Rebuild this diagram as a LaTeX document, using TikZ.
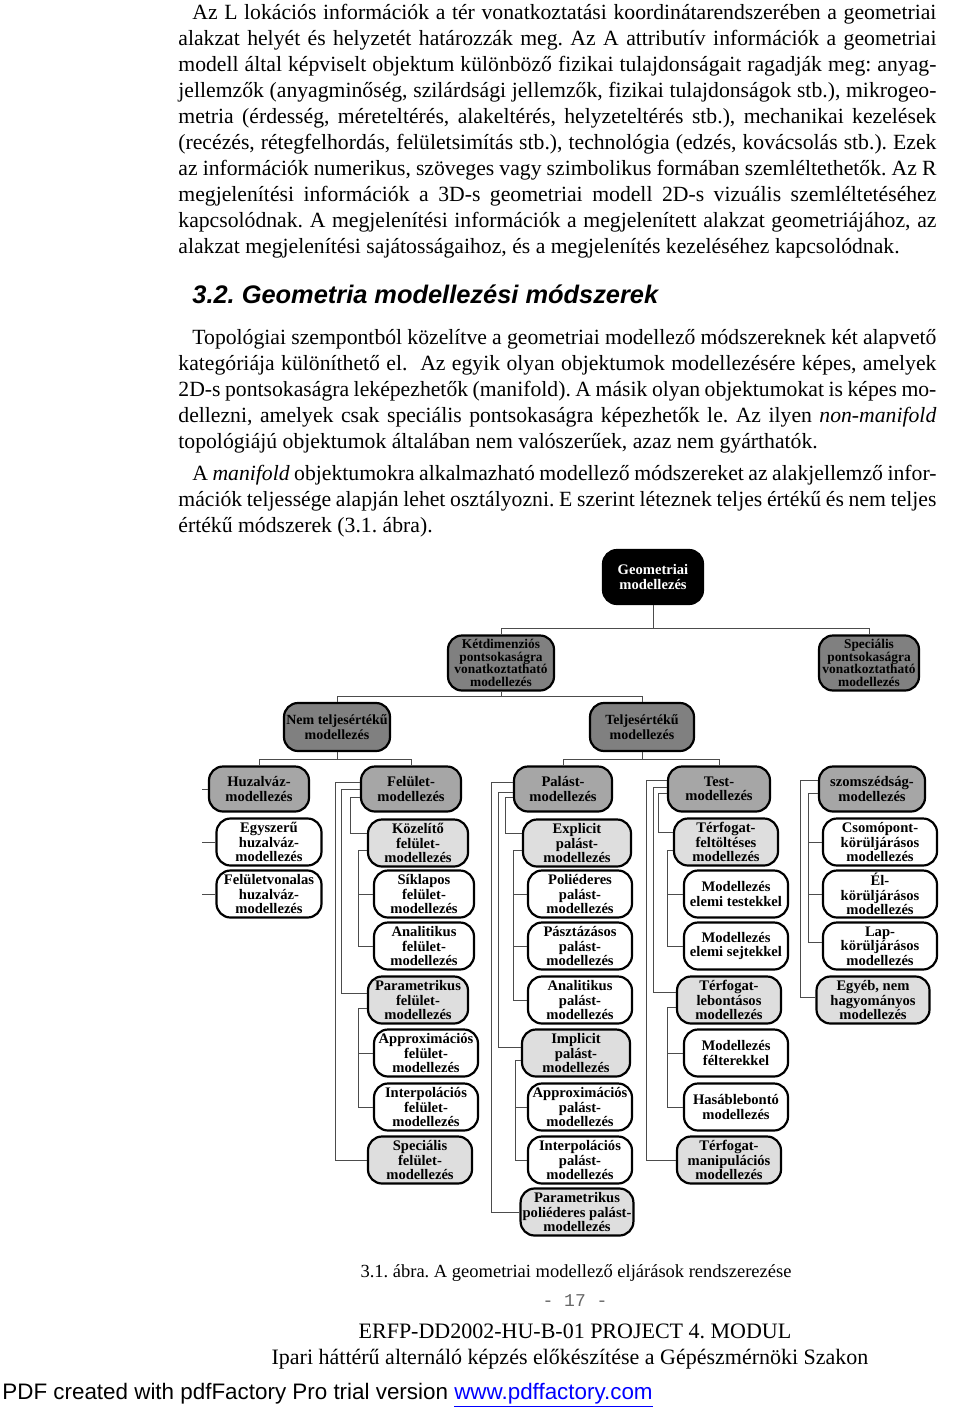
\documentclass[tikz,border=0pt]{standalone}
\usepackage{fontspec}
\setmainfont{Liberation Serif}
\newfontfamily\headfont{Liberation Sans}
\newfontfamily\pagefont{Liberation Mono}
\definecolor{linkblue}{RGB}{0,0,255}
\frenchspacing

\tikzset{
  box/.style={draw=black,line width=1.1pt,rounded corners=7pt,align=center,
              inner sep=1pt,font=\bfseries\fontsize{7.3}{7.2}\selectfont},
  toplvl/.style={box,fill=black,text=white,minimum width=50pt,minimum height=27pt},
  maingrp/.style={box,fill=black!50,minimum width=53pt,minimum height=27.5pt,
                  font=\bfseries\fontsize{6.7}{6.2}\selectfont},
  kindgrp/.style={box,fill=black!50,minimum width=53pt,minimum height=24pt,
                  font=\bfseries\fontsize{7}{7.2}\selectfont},
  method/.style={box,fill=black!35,minimum width=50pt,minimum height=22.5pt},
  subgrp/.style={box,fill=black!13,minimum width=52pt,minimum height=23.5pt},
  leaf/.style={box,fill=white,minimum width=52pt,minimum height=23.5pt},
  conn/.style={draw=black!70,line width=0.5pt},
  bodytext/.style={anchor=north west,inner sep=0pt,text width=379pt,align=justify,
                   font=\fontsize{10.85}{13}\selectfont}
}

% parent -> child: left trunk at distance #3, shifts of the two stubs
\newcommand{\branch}[5]{\draw[conn] ([yshift=#4]#1.west) -- ++(-#3,0) |- ([yshift=#5]#2.west);}
\newcommand{\stub}[2]{\draw[conn] (#1.west) -- ++(-#2,0);}

\begin{document}
\begin{tikzpicture}[x=0.5pt,y=-0.5pt]
  \fill[white] (0,0) rectangle (960,1407);
  \useasboundingbox (0,0) rectangle (960,1407);

  % text above the figure
  \node[bodytext] (parone) at (178,0.8) {\strut\hspace*{7pt}Az L lokációs információk a tér vonatkoztatási koordinátarendszerében a geometriai\linebreak
    alakzat helyét és helyzetét határozzák meg. Az A attributív információk a geometriai\linebreak
    modell által képviselt objektum különböző fizikai tulajdonságait ragadják meg: anyag-\linebreak
    jellemzők (anyagminőség, szilárdsági jellemzők, fizikai tulajdonságok stb.), mikrogeo-\linebreak
    metria (érdesség, méreteltérés, alakeltérés, helyzeteltérés stb.), mechanikai kezelések\linebreak
    (recézés, rétegfelhordás, felületsimítás stb.), technológia (edzés, kovácsolás stb.). Ezek\linebreak
    az információk numerikus, szöveges vagy szimbolikus formában szemléltethetők. Az R\linebreak
    megjelenítési információk a 3D-s geometriai modell 2D-s vizuális szemléltetéséhez\linebreak
    kapcsolódnak. A megjelenítési információk a megjelenített alakzat geometriájához, az\linebreak
    alakzat megjelenítési sajátosságaihoz, és a megjelenítés kezeléséhez kapcsolódnak.};

  \node[anchor=base west,inner sep=0pt,font=\headfont\bfseries\itshape\fontsize{12.7}{15}\selectfont]
    (heading) at (192,303) {3.2. Geometria modellezési módszerek};

  \node[bodytext] (partwo) at (178,325.8) {\strut\hspace*{7pt}Topológiai szempontból közelítve a geometriai modellező módszereknek két alapvető\linebreak
    kategóriája különíthető el.\ \ Az egyik olyan objektumok modellezésére képes, amelyek\linebreak
    2D-s pontsokaságra leképezhetők (manifold). A másik olyan objektumokat is képes mo-\linebreak
    dellezni, amelyek csak speciális pontsokaságra képezhetők le. Az ilyen \textit{non-manifold}\linebreak
    topológiájú objektumok általában nem valószerűek, azaz nem gyárthatók.};

  \node[bodytext] (parthree) at (178,461.8) {\strut\hspace*{7pt}A \textit{manifold} objektumokra alkalmazható modellező módszereket az alakjellemző infor-\linebreak
    mációk teljessége alapján lehet osztályozni. E szerint léteznek teljes értékű és nem teljes\linebreak
    értékű módszerek (3.1. ábra).};

  % the tree
  \node[toplvl] (geo) at (653,577) {Geometriai\\modellezés};
  \node[maingrp] (ketdim) at (501,663) {Kétdimenziós\\pontsokaságra\\vonatkoztatható\\modellezés};
  \node[maingrp,minimum width=50pt] (specpont) at (869,663) {Speciális\\pontsokaságra\\vonatkoztatható\\modellezés};
  \node[kindgrp] (nemtelj) at (337,727) {Nem teljesértékű\\modellezés};
  \node[kindgrp,minimum width=52pt] (telj) at (642,727) {Teljesértékű\\modellezés};

  \node[method] (huzal) at (259,789) {Huzalváz-\\modellezés};
  \node[method] (felulet) at (411,789) {Felület-\\modellezés};
  \node[method,minimum width=49pt] (palast) at (563,789) {Palást-\\modellezés};
  \node[method,minimum width=51pt] (test) at (719,789) {Test-\\modellezés};
  \node[method,minimum width=53pt] (szom) at (872,789) {szomszédság-\\modellezés};

  \node[leaf,minimum width=52.5pt] (egyszeru) at (269,842) {Egyszerű\\huzalváz-\\modellezés};
  \node[leaf,minimum width=52.5pt] (felvon) at (269,894) {Felületvonalas\\huzalváz-\\modellezés};

  \node[subgrp,minimum width=50pt] (kozelito) at (418,843) {Közelítő\\felület-\\modellezés};
  \node[leaf,minimum width=50pt] (siklapos) at (424,894) {Síklapos\\felület-\\modellezés};
  \node[leaf,minimum width=50pt] (analfel) at (424,946) {Analitikus\\felület-\\modellezés};
  \node[subgrp,minimum width=50pt] (paramfel) at (418,1000) {Parametrikus\\felület-\\modellezés};
  \node[leaf] (approxfel) at (426,1053) {Approximációs\\felület-\\modellezés};
  \node[leaf] (interpfel) at (426,1107) {Interpolációs\\felület-\\modellezés};
  \node[subgrp] (specfel) at (420,1160) {Speciális\\felület-\\modellezés};

  \node[subgrp,minimum width=54pt] (explicit) at (577,843) {Explicit\\palást-\\modellezés};
  \node[leaf] (polied) at (580,894) {Poliéderes\\palást-\\modellezés};
  \node[leaf] (paszt) at (580,946) {Pásztázásos\\palást-\\modellezés};
  \node[leaf] (analpal) at (580,1000) {Analitikus\\palást-\\modellezés};
  \node[subgrp,minimum width=54pt] (implicit) at (576,1053) {Implicit\\palást-\\modellezés};
  \node[leaf] (approxpal) at (580,1107) {Approximációs\\palást-\\modellezés};
  \node[leaf] (interppal) at (580,1160) {Interpolációs\\palást-\\modellezés};
  \node[subgrp,minimum width=55pt] (parapol) at (577,1212) {Parametrikus\\poliéderes palást-\\modellezés};

  \node[subgrp] (feltolt) at (726,842) {Térfogat-\\feltöltéses\\modellezés};
  \node[leaf] (testekkel) at (736,894) {Modellezés\\elemi testekkel};
  \node[leaf] (sejtekkel) at (736,946) {Modellezés\\elemi sejtekkel};
  \node[subgrp] (lebont) at (729,1000) {Térfogat-\\lebontásos\\modellezés};
  \node[leaf] (felter) at (736,1053) {Modellezés\\félterekkel};
  \node[leaf] (hasab) at (736,1107) {Hasáblebontó\\modellezés};
  \node[subgrp] (manip) at (729,1160) {Térfogat-\\manipulációs\\modellezés};

  \node[leaf,minimum width=57pt] (csomo) at (880,842) {Csomópont-\\körüljárásos\\modellezés};
  \node[leaf,minimum width=57pt] (elkor) at (880,894) {Él-\\körüljárásos\\modellezés};
  \node[leaf,minimum width=57pt] (lapkor) at (880,946) {Lap-\\körüljárásos\\modellezés};
  \node[subgrp,minimum width=56.5pt] (egyeb) at (873,1000) {Egyéb, nem\\hagyományos\\modellezés};

  % upper levels
  \draw[conn] (geo.south) -- ++(0,23) coordinate (geobar);
  \draw[conn] (geobar) -| (ketdim.north);
  \draw[conn] (geobar) -| (specpont.north);
  \draw[conn] (ketdim.south) -- ++(0,5) coordinate (ketbar);
  \draw[conn] (ketbar) -| (nemtelj.north);
  \draw[conn] (ketbar) -| (telj.north);
  \draw[conn] (nemtelj.south) -- ++(0,7) coordinate (nembar);
  \draw[conn] (nembar) -| (huzal.north);
  \draw[conn] (nembar) -| (felulet.north);
  \draw[conn] (telj.south) -- ++(0,7) coordinate (teljbar);
  \draw[conn] (teljbar) -| (palast.north);
  \draw[conn] (teljbar) -| (test.north);

  % wire frame column
  \stub{huzal}{6}
  \stub{egyszeru}{13}
  \stub{felvon}{13}

  % surface column
  \branch{felulet}{kozelito}{9}{-4pt}{5pt}
  \branch{felulet}{paramfel}{18}{0pt}{3.5pt}
  \branch{felulet}{specfel}{24}{3.5pt}{0pt}
  \branch{kozelito}{siklapos}{8}{-3.5pt}{0pt}
  \branch{kozelito}{analfel}{8}{-3.5pt}{0pt}
  \branch{paramfel}{approxfel}{8}{-4pt}{0pt}
  \branch{paramfel}{interpfel}{8}{-4pt}{0pt}

  % shell column
  \branch{palast}{explicit}{7}{-4pt}{5pt}
  \branch{palast}{implicit}{14}{-1.5pt}{3pt}
  \branch{palast}{parapol}{21}{3.5pt}{0pt}
  \branch{explicit}{polied}{8}{-3.5pt}{0pt}
  \branch{explicit}{paszt}{8}{-3.5pt}{0pt}
  \branch{explicit}{analpal}{8}{-3.5pt}{0pt}
  \branch{implicit}{approxpal}{5}{-3.5pt}{0pt}
  \branch{implicit}{interppal}{5}{-3.5pt}{0pt}

  % solid column
  \branch{test}{feltolt}{8}{-2pt}{5pt}
  \branch{test}{lebont}{13}{1pt}{4pt}
  \branch{test}{manip}{20}{4.5pt}{0pt}
  \branch{feltolt}{testekkel}{5}{-4pt}{0pt}
  \branch{feltolt}{sejtekkel}{5}{-4pt}{0pt}
  \branch{lebont}{felter}{8}{-3.5pt}{0pt}
  \branch{lebont}{hasab}{8}{-3.5pt}{0pt}

  % adjacency column
  \branch{szom}{csomo}{9}{-2pt}{0pt}
  \branch{szom}{elkor}{9}{-2pt}{0pt}
  \branch{szom}{lapkor}{9}{-2pt}{2pt}
  \branch{szom}{egyeb}{17}{4.5pt}{1.5pt}

  % caption and page foot
  \node[anchor=base,inner sep=0pt,font=\fontsize{9.25}{11}\selectfont] (caption) at (576,1277)
    {3.1. ábra. A geometriai modellező eljárások rendszerezése};
  \node[anchor=base,inner sep=0pt,text=black!60,font=\pagefont\fontsize{9}{11}\selectfont] (pagenum) at (575,1306)
    {- 17 -};
  \node[anchor=base,inner sep=0pt,font=\fontsize{11}{13}\selectfont] (project) at (575,1338)
    {ERFP-DD2002-HU-B-01 PROJECT 4. MODUL};
  \node[anchor=base,inner sep=0pt,font=\fontsize{11}{13}\selectfont] (course) at (570,1364)
    {Ipari háttérű alternáló képzés előkészítése a Gépészmérnöki Szakon};
  \node[anchor=base west,inner sep=0pt,font=\headfont\fontsize{11.2}{14}\selectfont] (pdfnote) at (2,1399)
    {PDF created with pdfFactory Pro trial version \textcolor{linkblue}{\underline{www.pdffactory.com}}};
\end{tikzpicture}
\end{document}
